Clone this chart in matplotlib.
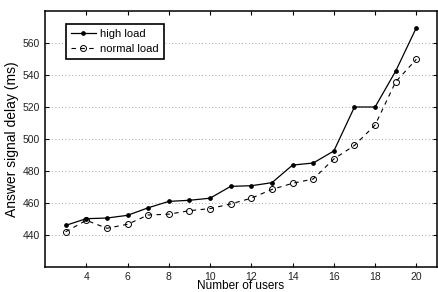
import numpy as np
import matplotlib.pyplot as plt

plt.rcParams['font.family'] = ['Liberation Sans', 'DejaVu Sans']

users = [3, 4, 5, 6, 7, 8, 9, 10, 11, 12, 13, 14, 15, 16, 17, 18, 19, 20]
high_load = [446, 450.2, 450.6, 452.3, 457, 461, 461.7, 463, 470.4, 470.8,
             472.7, 483.7, 485, 492.5, 520, 520, 542.5, 569.6]
normal_load = [442, 449.2, 444.2, 446.7, 452.5, 453, 455.2, 456.5, 459.4, 463,
               468.5, 472.3, 475, 487.5, 496, 508.75, 535.8, 549.8]

fig = plt.figure(figsize=(4.38, 2.92), dpi=100)
ax = fig.add_axes([45/438, 1-267/292, 392/438, 256/292])

ax.plot(users, high_load, '-', color='black', lw=0.9, marker='o', ms=2.4,
        mfc='black', mec='black', label='high load')
ax.plot(users, normal_load, '--', color='black', lw=0.8, marker='o', ms=4.3,
        mfc='none', mec='black', mew=0.7, dashes=(4, 4), label='normal load')

ax.set_xlim(2, 21)
ax.set_ylim(420, 580)
ax.set_xticks(np.arange(4, 21, 2))
ax.set_yticks(np.arange(440, 561, 20))
ax.yaxis.grid(True, linestyle=(0, (1, 3)), color='#888888', lw=0.6)
ax.tick_params(direction='in', top=True, right=True, labelsize=7.5,
               labelcolor='#222222', length=3, width=0.8)
for s in ax.spines.values():
    s.set_linewidth(1.1)

ax.set_xlabel('Number of users', fontsize=8.5, labelpad=-1)
ax.set_ylabel('Answer signal delay (ms)', fontsize=10, labelpad=3)

leg = ax.legend(loc='upper left', bbox_to_anchor=(0.04, 0.97), fontsize=8,
                fancybox=False, edgecolor='black', framealpha=1,
                handlelength=2.2, handletextpad=0.4, borderpad=0.45,
                labelspacing=0.45)
leg.get_frame().set_linewidth(1.2)

fig.savefig('out.png', dpi=100)
